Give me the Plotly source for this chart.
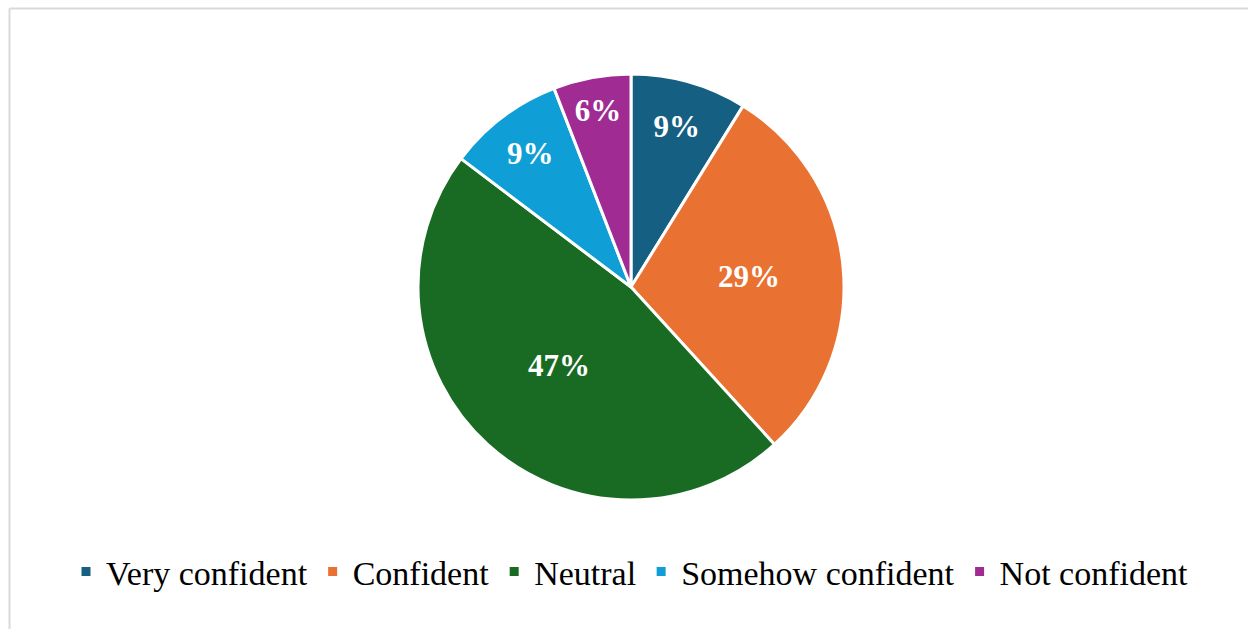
import plotly.graph_objects as go

categories = ["Very confident", "Confident", "Neutral", "Somehow confident", "Not confident"]
counts = [3, 10, 16, 3, 2]
colors = ["#156082", "#E97132", "#196B24", "#0F9ED5", "#A02B93"]

W, H = 1248, 629
cx, cy, r = 631, 287, 213
SERIF = "'Liberation Serif', 'Times New Roman', 'DejaVu Serif', serif"

fig = go.Figure(go.Pie(
    labels=categories,
    values=counts,
    sort=False,
    direction="clockwise",
    rotation=0,
    marker=dict(colors=colors, line=dict(color="white", width=3)),
    texttemplate="%{percent:.0%}",
    textposition="inside",
    insidetextorientation="horizontal",
    textfont=dict(family=SERIF, size=31, color="white", weight="bold"),
    hoverinfo="label+percent",
    domain=dict(x=[(cx - r) / W, (cx + r) / W], y=[1 - (cy + r) / H, 1 - (cy - r) / H]),
))

fig.update_layout(
    width=W, height=H,
    margin=dict(l=0, r=0, t=0, b=0),
    paper_bgcolor="white",
    font=dict(family=SERIF),
    showlegend=True,
    legend=dict(
        orientation="h",
        x=630 / W, xanchor="center",
        y=1 - 572 / H, yanchor="middle",
        font=dict(family=SERIF, size=34, color="black"),
        itemclick=False,
    ),
    shapes=[
        dict(type="line", xref="paper", yref="paper", x0=9.5 / W, x1=1, y0=1 - 8.5 / H, y1=1 - 8.5 / H,
             line=dict(color="#d9d9d9", width=2)),
        dict(type="line", xref="paper", yref="paper", x0=9.5 / W, x1=9.5 / W, y0=0, y1=1 - 8.5 / H,
             line=dict(color="#d9d9d9", width=2)),
    ],
)

fig.write_html("out.html")
